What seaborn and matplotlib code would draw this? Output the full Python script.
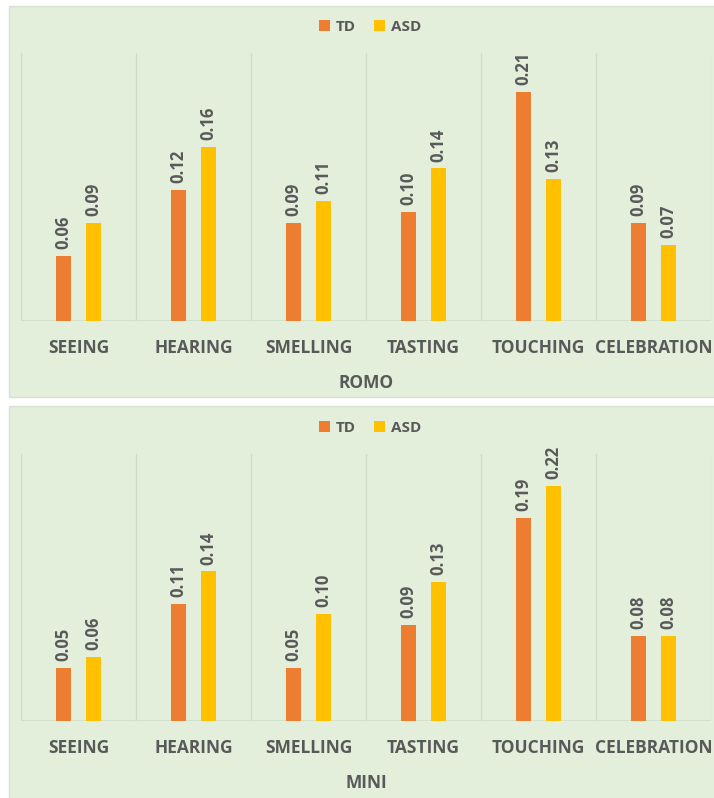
import matplotlib
matplotlib.use("Agg")
import matplotlib.pyplot as plt
from matplotlib.patches import Rectangle, Patch
import numpy as np
import pandas as pd
import seaborn as sns

# Categories and series
senses = ["SEEING", "HEARING", "SMELLING", "TASTING", "TOUCHING", "CELEBRATION"]
groups = ["TD", "ASD"]
romo_td = [0.06, 0.12, 0.09, 0.10, 0.21, 0.09]
romo_asd = [0.09, 0.16, 0.11, 0.14, 0.13, 0.07]
mini_td = [0.05, 0.11, 0.05, 0.09, 0.19, 0.08]
mini_asd = [0.06, 0.14, 0.10, 0.13, 0.22, 0.08]
panel_titles = ["ROMO", "MINI"]

ORANGE = "#ED7D31"
YELLOW = "#FFC000"
PANEL_BG = "#E3EFDB"
GRID = "#CFDCC8"
TEXT = "#595959"
FONT = "Open Sans"

sns.set_theme(style="white")
plt.rcParams["font.family"] = [FONT, "DejaVu Sans"]

W, H = 714, 798
fig = plt.figure(figsize=(W / 100, H / 100), dpi=100)
fig.patch.set_facecolor("white")


def fy(px):
    """Convert a pixel row (from top) into figure fraction."""
    return 1 - px / H


def fx(px):
    return px / W


def make_frame(td, asd):
    return pd.DataFrame({
        "sense": senses * 2,
        "group": ["TD"] * len(senses) + ["ASD"] * len(senses),
        "value": list(td) + list(asd),
    })


panels = [
    dict(data=make_frame(romo_td, romo_asd), bg=(9, 6, 800, 391), ax=(53, 321),
         ymax=0.246, legend_y=27, title_y=383, title=panel_titles[0]),
    dict(data=make_frame(mini_td, mini_asd), bg=(9, 406, 800, 400), ax=(454, 721),
         ymax=0.25, legend_y=428, title_y=783, title=panel_titles[1]),
]

for p in panels:
    x0, y0, w, h = p["bg"]
    fig.patches.append(Rectangle((fx(x0), fy(y0 + h)), w / W, h / H,
                                 transform=fig.transFigure, facecolor=PANEL_BG,
                                 edgecolor="#D6E2D0", linewidth=1.0, zorder=-5))

    top, bot = p["ax"]
    ax = fig.add_axes([fx(21), fy(bot), fx(711) - fx(21), (bot - top) / H])
    ax.set_facecolor("none")
    ax.set_zorder(2)

    sns.barplot(data=p["data"], x="sense", y="value", hue="group",
                order=senses, hue_order=groups, palette=[ORANGE, YELLOW],
                width=0.52, gap=0.5, legend=False, ax=ax, saturation=1,
                linewidth=0, edgecolor="none")

    for cont in ax.containers:
        vals = [bar.get_height() for bar in cont]
        ax.bar_label(cont, labels=[f"{v:.2f}" for v in vals], rotation=90,
                     padding=5, color=TEXT, fontsize=12, fontweight="bold")

    ax.set_ylim(0, p["ymax"])
    ax.set_xlim(-0.5, len(senses) - 0.5)
    ax.set_yticks([])
    ax.set_xlabel("")
    ax.set_ylabel("")
    for s in ax.spines.values():
        s.set_visible(False)
    ax.axhline(0, color=GRID, linewidth=1.2, zorder=0)
    ax.set_xticks(np.arange(-0.5, len(senses), 1), minor=True)
    ax.grid(which="minor", axis="x", color=GRID, linewidth=1.0)
    ax.grid(which="major", visible=False)
    ax.set_axisbelow(True)
    ax.tick_params(axis="x", which="both", length=0, pad=13)
    for lbl in ax.get_xticklabels():
        lbl.set_fontsize(12.5)
        lbl.set_fontweight("bold")
        lbl.set_color(TEXT)

    fig.text(fx(366), fy(p["title_y"]), p["title"], ha="center", va="center",
             fontsize=12.5, fontweight="bold", color=TEXT)

    handles = [Patch(facecolor=ORANGE, edgecolor="none", label="TD"),
               Patch(facecolor=YELLOW, edgecolor="none", label="ASD")]
    fig.legend(handles=handles, loc="center", bbox_to_anchor=(fx(370), fy(p["legend_y"])),
               ncol=2, frameon=False, handlelength=0.7, handleheight=0.7,
               handletextpad=0.4, columnspacing=1.2,
               prop=dict(family=FONT, size=11, weight="bold"), labelcolor=TEXT)

fig.savefig("out.png", dpi=100, facecolor="white")
